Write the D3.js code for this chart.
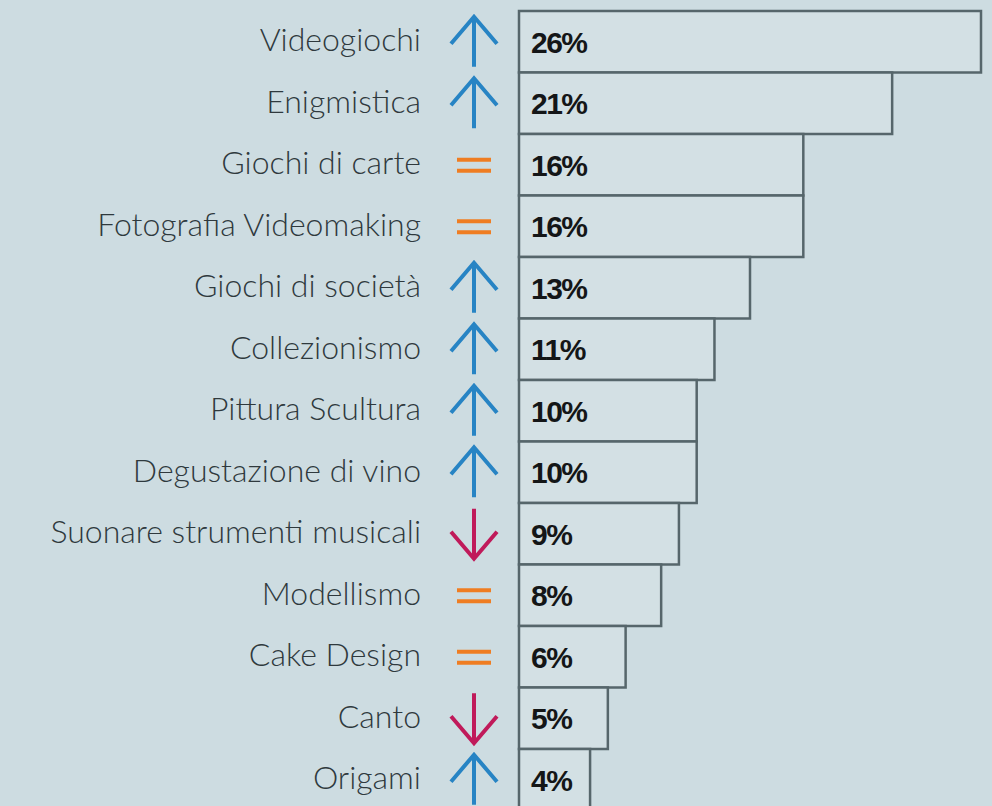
<!DOCTYPE html>
<html>
<head>
<meta charset="utf-8">
<script src="https://cdn.jsdelivr.net/npm/d3@7"></script>
<style>
  html, body { margin: 0; padding: 0; background: #cddce1; overflow: hidden; }
</style>
</head>
<body>
<div class="chart"></div>
<script>
const categories = [
  "Videogiochi", "Enigmistica", "Giochi di carte", "Fotografia Videomaking",
  "Giochi di società", "Collezionismo", "Pittura Scultura", "Degustazione di vino",
  "Suonare strumenti musicali", "Modellismo", "Cake Design", "Canto", "Origami"
];
const values = [26, 21, 16, 16, 13, 11, 10, 10, 9, 8, 6, 5, 4];
// trend: up / down / same
const trends = ["up", "up", "same", "same", "up", "up", "up", "up", "down", "same", "same", "down", "up"];

const width = 992;
const height = 806;

const svg = d3
  .select(".chart")
  .append("svg")
  .attr("width", width)
  .attr("height", height);

svg.append("rect").attr("width", width).attr("height", height).attr("fill", "#cddce1");

const xScale = d3.scaleLinear().domain([0, 26]).range([519, 981]);
const yScale = d3
  .scaleBand()
  .domain(categories)
  .range([11, 11 + 61.5 * categories.length])
  .padding(0);

const rows = categories.map((c, i) => ({ cat: c, value: values[i], trend: trends[i] }));

// bars
svg
  .selectAll("rect.bar")
  .data(rows)
  .enter()
  .append("rect")
  .attr("class", "bar")
  .attr("x", xScale(0))
  .attr("y", (d) => yScale(d.cat))
  .attr("width", (d) => xScale(d.value) - xScale(0))
  .attr("height", yScale.bandwidth())
  .attr("fill", "#d3e0e4")
  .attr("stroke", "#56666b")
  .attr("stroke-width", 2.5);

// value labels
svg
  .selectAll("text.value")
  .data(rows)
  .enter()
  .append("text")
  .attr("class", "value")
  .attr("x", xScale(0) + 12)
  .attr("y", (d) => yScale(d.cat) + yScale.bandwidth() / 2)
  .attr("dy", "0.36em")
  .attr("font-family", "'Liberation Sans', Arial, sans-serif")
  .attr("font-weight", "bold")
  .attr("font-size", 30)
  .attr("letter-spacing", -1.5)
  .attr("fill", "#141617")
  .text((d) => d.value + "%");

// category labels
svg
  .selectAll("text.cat")
  .data(rows)
  .enter()
  .append("text")
  .attr("class", "cat")
  .attr("x", 421)
  .attr("y", (d) => yScale(d.cat) + yScale.bandwidth() / 2)
  .attr("dy", "0.3em")
  .attr("text-anchor", "end")
  .attr("font-family", "Lato, sans-serif")
  .attr("font-weight", 300)
  .attr("font-size", 32)
  .attr("fill", "#2f393d")
  .text((d) => d.cat);

// trend icons
const colors = { up: "#2784c4", down: "#c01a5a", same: "#ef7d22" };
const iconX = 474;

const icons = svg
  .selectAll("g.icon")
  .data(rows)
  .enter()
  .append("g")
  .attr("class", "icon")
  .attr("transform", (d) => `translate(${iconX}, ${yScale(d.cat) + yScale.bandwidth() / 2})`);

icons
  .filter((d) => d.trend === "up")
  .append("path")
  .attr("d", "M0,-25 L0,25 M-23,2 L0,-25 L23,2")
  .attr("fill", "none")
  .attr("stroke", (d) => colors[d.trend])
  .attr("stroke-width", 4);

icons
  .filter((d) => d.trend === "down")
  .append("path")
  .attr("d", "M0,-25 L0,25 M-23,-2 L0,25 L23,-2")
  .attr("fill", "none")
  .attr("stroke", (d) => colors[d.trend])
  .attr("stroke-width", 4);

icons
  .filter((d) => d.trend === "same")
  .append("path")
  .attr("d", "M-17,-5 L17,-5 M-17,6 L17,6")
  .attr("fill", "none")
  .attr("stroke", (d) => colors[d.trend])
  .attr("stroke-width", 4);
</script>
</body>
</html>
